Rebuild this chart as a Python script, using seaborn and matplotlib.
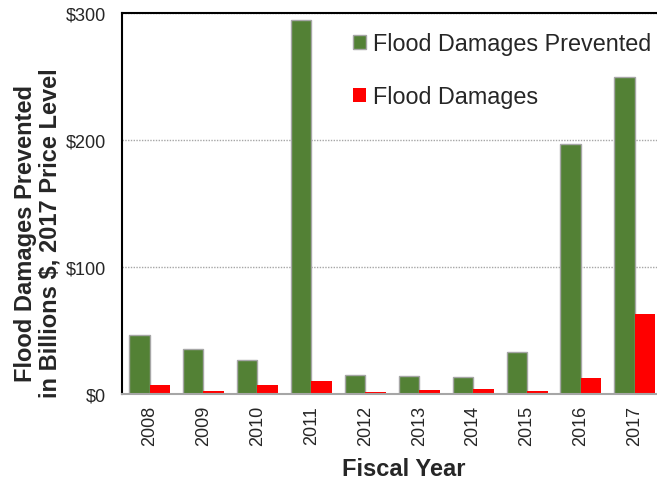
import matplotlib
matplotlib.use("Agg")
import matplotlib.pyplot as plt
import seaborn as sns
import pandas as pd
from matplotlib.patches import Patch
from matplotlib.ticker import FuncFormatter

years = ["2008", "2009", "2010", "2011", "2012", "2013", "2014", "2015", "2016", "2017"]
prevented = [46.7, 35.4, 26.5, 294.5, 15.2, 14.2, 13.6, 33.3, 196.9, 249.6]
damages = [7.3, 2.1, 6.8, 10.2, 1.5, 3.1, 3.9, 2.4, 12.8, 62.7]
series_names = ["Flood Damages Prevented", "Flood Damages"]
series_colors = ["#538135", "#FF0000"]

df = pd.DataFrame({
    "year": years * 2,
    "value": prevented + damages,
    "series": [series_names[0]] * len(years) + [series_names[1]] * len(years),
})

sns.set_style("white")
plt.rcParams["font.family"] = ["Liberation Sans", "DejaVu Sans"]

fig = plt.figure(figsize=(6.57, 4.81), dpi=100)
ax = fig.add_axes([122 / 657, 1 - 395 / 481, (657 - 122) / 657, (395 - 14) / 481])

sns.barplot(data=df, x="year", y="value", hue="series", order=years,
            hue_order=series_names, palette=series_colors, width=0.76,
            saturation=1, ax=ax, legend=False)

# grey outline on the green bars only
for container, edge in zip(ax.containers, ["#a6a6a6", "none"]):
    for bar in container:
        bar.set_edgecolor(edge)
        bar.set_linewidth(1.0)

ax.set_ylim(0, 300)
ax.set_xlim(-0.51, 9.41)
ax.set_yticks([0, 100, 200, 300])
ax.yaxis.set_major_formatter(FuncFormatter(lambda v, p: f"${v:.0f}"))
ax.yaxis.grid(True, linestyle=(0, (1, 1)), color="#a6a6a6", linewidth=1)
ax.set_axisbelow(True)

ax.tick_params(axis="y", labelsize=13, length=0, pad=11.5)
ax.tick_params(axis="x", labelsize=13, length=0, pad=8, labelrotation=90)

for s in ["left", "top"]:
    ax.spines[s].set_color("black")
    ax.spines[s].set_linewidth(1.5)
ax.spines["right"].set_visible(False)
ax.spines["bottom"].set_color("#a6a6a6")
ax.spines["bottom"].set_linewidth(1.5)

ax.set_xlabel("Fiscal Year", fontsize=17, fontweight="bold")
ax.xaxis.set_label_coords((404 - 122) / 535, -(458 - 395) / 381)
ax.set_ylabel("Flood Damages Prevented\nin Billions $, 2017 Price Level",
              fontsize=17, fontweight="bold", linespacing=1.12)
ax.yaxis.set_label_coords(-(122 - 62) / 535, (395 - 233) / 381)

handles = [Patch(facecolor=series_colors[0], edgecolor="#a6a6a6"),
           Patch(facecolor=series_colors[1], edgecolor="none")]
ax.legend(handles, series_names, loc="upper left",
          bbox_to_anchor=((337 - 122) / 535, 0.993),
          frameon=False, fontsize=16.8, handlelength=0.55, handleheight=0.55,
          handletextpad=0.3, labelspacing=1.3, borderaxespad=0.3)

fig.savefig("out.png", dpi=100)
